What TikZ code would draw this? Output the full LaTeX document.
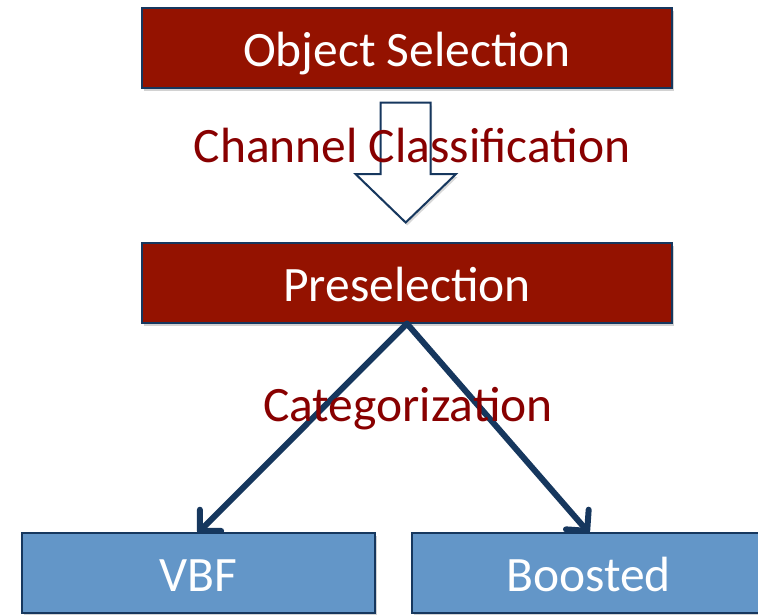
\documentclass[tikz,border=0pt]{standalone}
\usepackage{fontspec}
\setmainfont{Carlito}
\usetikzlibrary{arrows.meta,shadows}
\definecolor{boxred}{RGB}{148,18,0}
\definecolor{boxblue}{RGB}{99,150,200}
\definecolor{navy}{RGB}{22,55,94}
\definecolor{lblred}{RGB}{136,0,0}
\tikzset{
  stagebox/.style={draw=navy, line width=1.3pt, minimum height=80pt, inner sep=0pt,
    text height=37pt, text depth=0pt,
    text=white, font=\fontsize{49.5}{49.5}\selectfont,
    drop shadow={opacity=0.35, shadow xshift=1.5pt, shadow yshift=-3pt}},
  redbox/.style={stagebox, fill=boxred, minimum width=530pt},
  bluebox/.style={stagebox, fill=boxblue, minimum width=353pt},
  lbl/.style={text=lblred, font=\fontsize{49.5}{49.5}\selectfont, inner sep=0pt, anchor=base},
  conn/.style={draw=navy, line width=6pt, line cap=round, shorten >=-1pt,
    -{Straight Barb[length=15pt,width=30pt,line width=6pt, round]}},
}
\begin{document}
\begin{tikzpicture}[x=1pt,y=-1pt]
\useasboundingbox[fill=white] (0,0) rectangle (758,614);
\node[redbox] (obj) at (407,48) {Object Selection};
% block arrow
\draw[navy, line width=2pt, fill=white,
  drop shadow={opacity=0.3, shadow xshift=1.5pt, shadow yshift=-3pt}]
  (380.5,102.5) -- (430.5,102.5) -- (430.5,174) -- (456,174) -- (405.7,222.5)
  -- (355.5,174) -- (380.5,174) -- cycle;
\node[lbl] (chan) at (412,162.3) {Channel Classification};
\node[redbox] (pre) at (407,283) {Preselection};
\node[bluebox] (vbf) at (198.5,573) {VBF};
\node[bluebox] (boost) at (588.5,573) {Boosted};
\draw[conn] (pre.south) -- (vbf.north);
\draw[conn] (pre.south) -- (boost.north);
\node[lbl] (cat) at (408,421.7) {Categorization};
\end{tikzpicture}
\end{document}
